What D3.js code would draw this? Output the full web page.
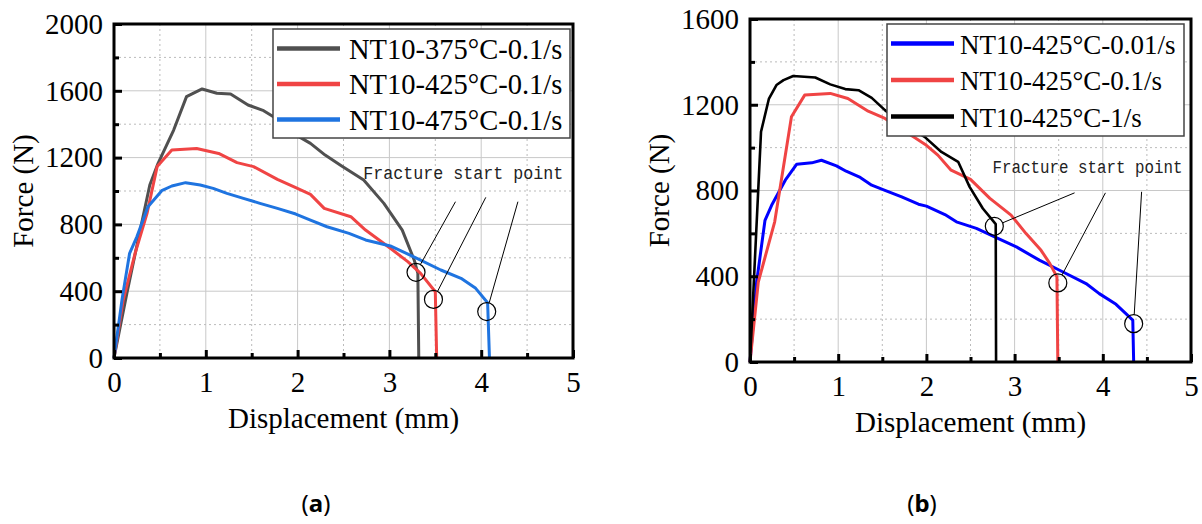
<!DOCTYPE html>
<html>
<head>
<meta charset="utf-8">
<script src="https://cdn.jsdelivr.net/npm/d3@7"></script>
<style>
  body { margin: 0; background: #fff; }
  svg { display: block; }
</style>
</head>
<body>
<svg id="chart" width="1202" height="524"></svg>
<script>

// DATA

// (a) temperature series, displacement (mm) / force (N)
var t375 = [[0,0],[0.14,387],[0.27,727],[0.39,1036],[0.48,1166],[0.65,1365],[0.79,1565],[0.96,1611],[1.12,1585],[1.27,1581],[1.46,1515],[1.63,1481],[1.75,1440],[2.0,1330],[2.14,1285],[2.3,1215],[2.48,1150],[2.72,1066],[2.94,926],[3.14,766],[3.27,587],[3.31,507],[3.32,0]];
var t425 = [[0,0],[0.10,347],[0.23,627],[0.36,866],[0.47,1146],[0.63,1245],[0.90,1255],[1.14,1225],[1.34,1170],[1.52,1146],[1.78,1070],[1.98,1020],[2.14,980],[2.29,896],[2.58,846],[2.74,766],[3.01,657],[3.20,577],[3.34,507],[3.50,397],[3.515,0]];
var t475 = [[0,0],[0.09,360],[0.17,627],[0.25,727],[0.37,906],[0.52,1002],[0.63,1030],[0.78,1050],[0.94,1036],[1.08,1016],[1.23,986],[1.41,956],[1.59,926],[1.78,896],[1.98,862],[2.14,826],[2.32,786],[2.56,746],[2.74,707],[3.01,671],[3.30,597],[3.56,527],[3.78,477],[3.94,417],[4.07,331],[4.09,0]];

// (b) strain rate series
var r001 = [[0,0],[0.075,373],[0.17,661],[0.245,731],[0.40,848],[0.53,923],[0.70,929],[0.81,941],[0.98,915],[1.09,890],[1.25,861],[1.38,825],[1.53,801],[1.72,770],[1.91,736],[2.0,727],[2.21,688],[2.34,654],[2.567,623],[2.786,581],[3.02,537],[3.28,475],[3.51,428],[3.81,366],[3.96,319],[4.15,269],[4.34,195],[4.35,0]];
var r01 = [[0,0],[0.094,373],[0.28,654],[0.47,1144],[0.62,1245],[0.91,1253],[1.11,1229],[1.34,1170],[1.53,1136],[1.7,1090],[1.87,1046],[2.0,1011],[2.13,965],[2.28,895],[2.5,852],[2.72,763],[2.96,685],[3.13,599],[3.30,521],[3.40,459],[3.48,397],[3.49,0]];
var r1 = [[0,0],[0.125,1074],[0.215,1229],[0.30,1292],[0.38,1315],[0.49,1334],[0.74,1327],[0.91,1295],[1.08,1273],[1.23,1268],[1.38,1232],[1.53,1175],[1.7,1120],[1.98,1050],[2.17,980],[2.36,934],[2.49,817],[2.64,716],[2.786,643],[2.79,0]];

// Legend labels
var labelsA = ["NT10-375°C-0.1/s", "NT10-425°C-0.1/s", "NT10-475°C-0.1/s"];
var labelsB = ["NT10-425°C-0.01/s", "NT10-425°C-0.1/s", "NT10-425°C-1/s"];

// Fracture start points (circles) and leader line ends
var fractureA = [[3.29,513],[3.48,351],[4.06,278]];
var leaderA = [[3.72,936],[4.05,962],[4.40,936]];
var noteA = [2.715,1072];
var fractureB = [[2.77,633],[3.49,369],[4.35,179]];
var leaderB = [[3.68,789],[4.03,789],[4.44,794]];
var noteB = [2.75,882];

// Axis ticks
var xTicks = [0, 1, 2, 3, 4, 5];
var xMinor = [0.5, 1.5, 2.5, 3.5, 4.5];
var yTicksA = [0, 400, 800, 1200, 1600, 2000];
var yMinorA = [200, 600, 1000, 1400, 1800];
var yTicksB = [0, 400, 800, 1200, 1600];
var yMinorB = [200, 600, 1000, 1400];

var svg = d3.select("#chart");
var serif = "Liberation Serif";


// PANEL DRAWING


function drawPanel(p) {
  var x = d3.scaleLinear().domain([0, 5]).range([p.left, p.right]);
  var y = d3.scaleLinear().domain([0, p.ymax]).range([p.bottom, p.top]);
  var g = svg.append("g");

  // Grid lines
  g.selectAll(".gx").data(xTicks.slice(1, -1)).enter().append("line")
    .attr("x1", x).attr("x2", x).attr("y1", p.top).attr("y2", p.bottom)
    .attr("stroke", "#c8c8c8").attr("stroke-width", 1);
  g.selectAll(".gxm").data(xMinor).enter().append("line")
    .attr("x1", x).attr("x2", x).attr("y1", p.top).attr("y2", p.bottom)
    .attr("stroke", "#bbbbbb").attr("stroke-width", 1).attr("stroke-dasharray", "2,3");
  g.selectAll(".gy").data(p.yTicks.slice(1, -1)).enter().append("line")
    .attr("y1", y).attr("y2", y).attr("x1", p.left).attr("x2", p.right)
    .attr("stroke", "#c8c8c8").attr("stroke-width", 1);
  g.selectAll(".gym").data(p.yMinor).enter().append("line")
    .attr("y1", y).attr("y2", y).attr("x1", p.left).attr("x2", p.right)
    .attr("stroke", "#bbbbbb").attr("stroke-width", 1).attr("stroke-dasharray", "2,3");

  // Curves
  var line = d3.line().x(function (d) { return x(d[0]); }).y(function (d) { return y(d[1]); });
  p.series.forEach(function (s, i) {
    g.append("path").datum(s).attr("d", line)
      .attr("fill", "none").attr("stroke", p.colors[i]).attr("stroke-width", p.widths[i])
      .attr("stroke-linejoin", "round");
  });

  // Axes: ticks point into the plot
  var xa = g.append("g").attr("transform", "translate(0," + p.bottom + ")")
    .call(d3.axisBottom(x).tickValues(xTicks).tickSize(-8).tickPadding(13).tickFormat(d3.format("d")));
  var xm = g.append("g").attr("transform", "translate(0," + p.bottom + ")")
    .call(d3.axisBottom(x).tickValues(xMinor).tickSize(-5).tickFormat(""));
  var ya = g.append("g").attr("transform", "translate(" + p.left + ",0)")
    .call(d3.axisLeft(y).tickValues(p.yTicks).tickSize(-8).tickPadding(11).tickFormat(d3.format("d")));
  var ym = g.append("g").attr("transform", "translate(" + p.left + ",0)")
    .call(d3.axisLeft(y).tickValues(p.yMinor).tickSize(-5).tickFormat(""));
  [xa, xm, ya, ym].forEach(function (a) {
    a.attr("font-family", serif).attr("font-size", 29);
    a.select(".domain").remove();
    a.selectAll(".tick line").attr("stroke", "#000").attr("stroke-width", 3);
    a.selectAll(".tick text").attr("fill", "#000");
  });

  // Frame
  g.append("rect").attr("x", p.left).attr("y", p.top)
    .attr("width", p.right - p.left).attr("height", p.bottom - p.top)
    .attr("fill", "none").attr("stroke", "#000").attr("stroke-width", 3);

  // Fracture start annotation
  g.selectAll(".frac").data(p.fracture).enter().append("circle")
    .attr("cx", function (d) { return x(d[0]); })
    .attr("cy", function (d) { return y(d[1]); })
    .attr("r", 9).attr("fill", "none").attr("stroke", "#000").attr("stroke-width", 1.2);
  p.fracture.forEach(function (d, i) {
    var cx = x(d[0]), cy = y(d[1]);
    var ex = x(p.leader[i][0]), ey = y(p.leader[i][1]);
    var len = Math.hypot(ex - cx, ey - cy);
    g.append("line")
      .attr("x1", cx + (ex - cx) / len * 9).attr("y1", cy + (ey - cy) / len * 9)
      .attr("x2", ex).attr("y2", ey)
      .attr("stroke", "#000").attr("stroke-width", 1);
  });
  // monospace note, squeezed horizontally to the reference width
  var noteSize = 19;
  var sx = p.noteWidth / (20 * 0.6 * noteSize);
  g.append("text")
    .attr("transform", "translate(" + x(p.note[0]) + "," + y(p.note[1]) + ") scale(" + sx + ",1)")
    .attr("font-family", "Liberation Mono").attr("font-size", noteSize).attr("fill", "#222")
    .text("Fracture start point");

  // Legend
  var lg = g.append("g");
  lg.append("rect").attr("x", p.legend.x).attr("y", p.legend.y)
    .attr("width", p.legend.w).attr("height", p.legend.h)
    .attr("fill", "#fff").attr("stroke", "#444").attr("stroke-width", 1.5);
  p.labels.forEach(function (lab, i) {
    var ly = p.legend.y + p.legend.row0 + i * p.legend.step;
    lg.append("line").attr("x1", p.legend.x + 4).attr("x2", p.legend.x + 67)
      .attr("y1", ly).attr("y2", ly)
      .attr("stroke", p.colors[i]).attr("stroke-width", 4.5);
    lg.append("text").attr("x", p.legend.x + p.legend.tx).attr("y", ly + 10)
      .attr("font-family", serif).attr("font-size", p.legend.fs).text(lab);
  });

  // Axis titles
  g.append("text").attr("x", (p.left + p.right) / 2).attr("y", p.bottom + 70)
    .attr("text-anchor", "middle").attr("font-family", serif).attr("font-size", 29)
    .text("Displacement (mm)");
  g.append("text")
    .attr("transform", "translate(" + (p.left - 81) + "," + ((p.top + p.bottom) / 2) + ") rotate(-90)")
    .attr("text-anchor", "middle").attr("font-family", serif).attr("font-size", 29)
    .text("Force (N)");

  // Caption
  var cap = g.append("text").attr("x", p.capX).attr("y", 512).attr("text-anchor", "middle")
    .attr("font-family", "Noto Sans").attr("font-size", 24);
  cap.append("tspan").text("(");
  cap.append("tspan").attr("font-weight", "bold").text(p.caption);
  cap.append("tspan").text(")");
}

drawPanel({
  left: 114, right: 573, top: 24, bottom: 358, ymax: 2000,
  yTicks: yTicksA, yMinor: yMinorA,
  series: [t375, t425, t475],
  colors: ["#505050", "#f04444", "#1f74e0"], widths: [3, 3, 3],
  labels: labelsA,
  fracture: fractureA, leader: leaderA, note: noteA, noteWidth: 200,
  legend: { x: 273, y: 29, w: 297, h: 109, row0: 19.5, step: 35.5, tx: 76, fs: 28.5 },
  capX: 316, caption: "a"
});

drawPanel({
  left: 750, right: 1191, top: 19, bottom: 362, ymax: 1600,
  yTicks: yTicksB, yMinor: yMinorB,
  series: [r001, r01, r1],
  colors: ["#0000ff", "#f04444", "#000000"], widths: [3, 3, 2.6],
  labels: labelsB,
  fracture: fractureB, leader: leaderB, note: noteB, noteWidth: 190,
  legend: { x: 887, y: 24, w: 297, h: 112, row0: 19.5, step: 36.5, tx: 73, fs: 27 },
  capX: 922, caption: "b"
});

</script>
</body>
</html>
